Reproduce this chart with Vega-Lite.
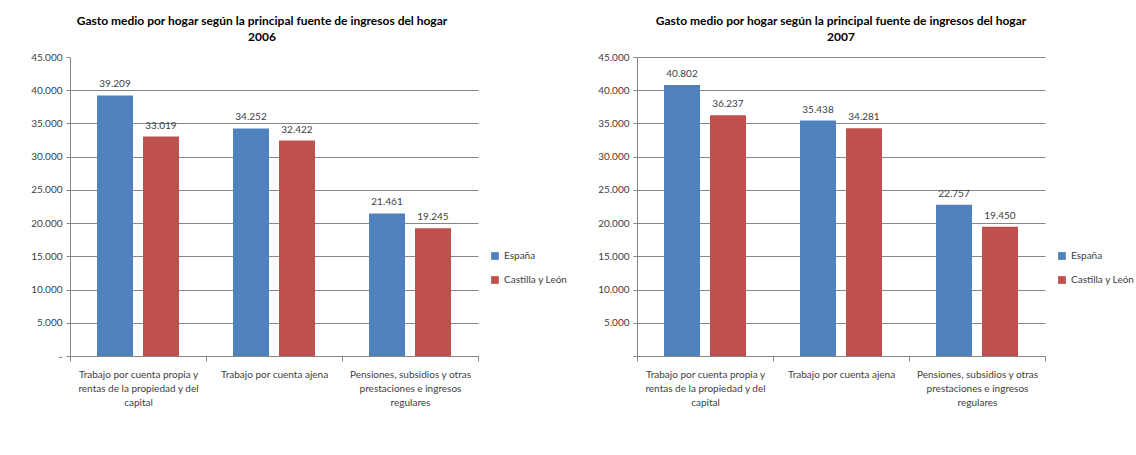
{
  "$schema": "https://vega.github.io/schema/vega-lite/v6.json",
  "background": "white",
  "padding": {"left": 30, "top": 15, "right": 5, "bottom": 5},
  "config": {
    "font": "Lato",
    "view": {"stroke": null},
    "locale": {"number": {"decimal": ",", "thousands": ".", "grouping": [3], "currency": ["", " €"]}},
    "axis": {"labelFont": "Lato", "labelFontSize": 10, "labelColor": "#404040", "domainColor": "#868686", "tickColor": "#868686", "gridColor": "#868686", "titleFontSize": 10},
    "title": {"font": "Lato", "fontSize": 12, "fontWeight": "bold", "color": "#000000", "anchor": "middle", "lineHeight": 16, "offset": 8},
    "legend": {"labelFont": "Lato", "labelFontSize": 10, "labelColor": "#404040"},
    "concat": {"spacing": 29}
  },
  "datasets": {
    "gasto": [
      {"anio": "2006", "fuente": "Trabajo por cuenta propia y rentas de la propiedad y del capital", "territorio": "España", "gasto": 39209},
      {"anio": "2006", "fuente": "Trabajo por cuenta propia y rentas de la propiedad y del capital", "territorio": "Castilla y León", "gasto": 33019},
      {"anio": "2006", "fuente": "Trabajo por cuenta ajena", "territorio": "España", "gasto": 34252},
      {"anio": "2006", "fuente": "Trabajo por cuenta ajena", "territorio": "Castilla y León", "gasto": 32422},
      {"anio": "2006", "fuente": "Pensiones, subsidios y otras prestaciones e ingresos regulares", "territorio": "España", "gasto": 21461},
      {"anio": "2006", "fuente": "Pensiones, subsidios y otras prestaciones e ingresos regulares", "territorio": "Castilla y León", "gasto": 19245},
      {"anio": "2007", "fuente": "Trabajo por cuenta propia y rentas de la propiedad y del capital", "territorio": "España", "gasto": 40802},
      {"anio": "2007", "fuente": "Trabajo por cuenta propia y rentas de la propiedad y del capital", "territorio": "Castilla y León", "gasto": 36237},
      {"anio": "2007", "fuente": "Trabajo por cuenta ajena", "territorio": "España", "gasto": 35438},
      {"anio": "2007", "fuente": "Trabajo por cuenta ajena", "territorio": "Castilla y León", "gasto": 34281},
      {"anio": "2007", "fuente": "Pensiones, subsidios y otras prestaciones e ingresos regulares", "territorio": "España", "gasto": 22757},
      {"anio": "2007", "fuente": "Pensiones, subsidios y otras prestaciones e ingresos regulares", "territorio": "Castilla y León", "gasto": 19450}
    ]
  },
  "resolve": {"scale": {"color": "independent", "y": "independent", "x": "independent"}, "legend": {"color": "independent"}},
  "hconcat": [
    {
      "width": 408,
      "height": 299,
      "data": {"name": "gasto"},
      "transform": [{"filter": "datum.anio == '2006'"}],
      "title": {"text": ["Gasto medio por hogar según la principal fuente de ingresos del hogar", "2006"], "dx": -12},
      "encoding": {
        "x": {"field": "fuente", "type": "nominal", "sort": null, "title": null,
          "scale": {"paddingInner": 0, "paddingOuter": 0},
          "axis": {"labelAngle": 0, "tickBand": "extent", "tickSize": 5, "labelPadding": 8, "labelLineHeight": 14, "labelBaseline": "top",
            "labelExpr": "datum.value == 'Trabajo por cuenta propia y rentas de la propiedad y del capital' ? ['Trabajo por cuenta propia y', 'rentas de la propiedad y del', 'capital'] : datum.value == 'Pensiones, subsidios y otras prestaciones e ingresos regulares' ? ['Pensiones, subsidios y otras', 'prestaciones e ingresos', 'regulares'] : datum.value"}},
        "xOffset": {"field": "territorio", "type": "nominal", "sort": ["España", "Castilla y León"], "scale": {"paddingInner": 0.217, "paddingOuter": 0.587}},
        "y": {"field": "gasto", "type": "quantitative", "title": null,
          "scale": {"domain": [0, 45000], "nice": false},
          "axis": {"values": [0, 5000, 10000, 15000, 20000, 25000, 30000, 35000, 40000, 45000], "tickSize": 4, "labelPadding": 4, "minExtent": 40, "maxExtent": 40,
            "labelExpr": "datum.value == 0 ? '-' : format(datum.value, ',')",
            "gridColor": {"condition": {"test": "datum.value == 45000", "value": "transparent"}, "value": "#868686"}}}
      },
      "layer": [
        {"mark": {"type": "bar"},
          "encoding": {"color": {"field": "territorio", "type": "nominal", "sort": ["España", "Castilla y León"],
            "scale": {"domain": ["España", "Castilla y León"], "range": ["#4F81BD", "#C0504D"]},
            "legend": {"title": null, "orient": "none", "legendX": 420, "legendY": 194, "symbolType": "square", "symbolSize": 60, "rowPadding": 14, "symbolStrokeWidth": 0}}}},
        {"mark": {"type": "text", "dy": -11, "fontSize": 10, "color": "#404040", "font": "Lato"},
          "encoding": {"text": {"field": "gasto", "type": "quantitative", "format": ","}}}
      ]
    },
    {
      "width": 408,
      "height": 299,
      "data": {"name": "gasto"},
      "transform": [{"filter": "datum.anio == '2007'"}],
      "title": {"text": ["Gasto medio por hogar según la principal fuente de ingresos del hogar", "2007"]},
      "encoding": {
        "x": {"field": "fuente", "type": "nominal", "sort": null, "title": null,
          "scale": {"paddingInner": 0, "paddingOuter": 0},
          "axis": {"labelAngle": 0, "tickBand": "extent", "tickSize": 5, "labelPadding": 8, "labelLineHeight": 14, "labelBaseline": "top",
            "labelExpr": "datum.value == 'Trabajo por cuenta propia y rentas de la propiedad y del capital' ? ['Trabajo por cuenta propia y', 'rentas de la propiedad y del', 'capital'] : datum.value == 'Pensiones, subsidios y otras prestaciones e ingresos regulares' ? ['Pensiones, subsidios y otras', 'prestaciones e ingresos', 'regulares'] : datum.value"}},
        "xOffset": {"field": "territorio", "type": "nominal", "sort": ["España", "Castilla y León"], "scale": {"paddingInner": 0.217, "paddingOuter": 0.587}},
        "y": {"field": "gasto", "type": "quantitative", "title": null,
          "scale": {"domain": [0, 45000], "nice": false},
          "axis": {"values": [0, 5000, 10000, 15000, 20000, 25000, 30000, 35000, 40000, 45000], "tickSize": 4, "labelPadding": 4, "minExtent": 40, "maxExtent": 40,
            "labelExpr": "datum.value == 0 ? '' : format(datum.value, ',')"}}
      },
      "layer": [
        {"mark": {"type": "bar"},
          "encoding": {"color": {"field": "territorio", "type": "nominal", "sort": ["España", "Castilla y León"],
            "scale": {"domain": ["España", "Castilla y León"], "range": ["#4F81BD", "#C0504D"]},
            "legend": {"title": null, "orient": "none", "legendX": 420, "legendY": 194, "symbolType": "square", "symbolSize": 60, "rowPadding": 14, "symbolStrokeWidth": 0}}}},
        {"mark": {"type": "text", "dy": -11, "fontSize": 10, "color": "#404040", "font": "Lato"},
          "encoding": {"text": {"field": "gasto", "type": "quantitative", "format": ","}}}
      ]
    }
  ]
}
